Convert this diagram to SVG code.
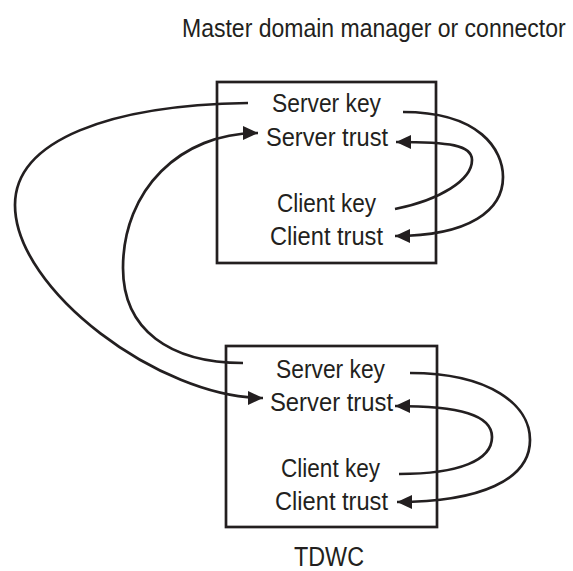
<svg xmlns="http://www.w3.org/2000/svg" width="573" height="571" viewBox="0 0 573 571">
  <style>
    .box { fill: #ffffff; stroke: #231f20; stroke-width: 2.7; }
    .lbl { font-family: "Liberation Sans", Arial, sans-serif; font-size: 26px; fill: #231f20; }
    .title { font-family: "Liberation Sans", Arial, sans-serif; font-size: 26px; fill: #231f20; }
    .conn { fill: none; stroke: #231f20; stroke-width: 2.7; }
  </style>
  <defs>
    <marker id="arrow" markerUnits="userSpaceOnUse" markerWidth="16" markerHeight="14" refX="15" refY="7" orient="auto">
      <path d="M0,0 L15,7 L0,14 Z" fill="#231f20"/>
    </marker>
  </defs>

  <rect width="573" height="571" fill="#ffffff"/>

  <!-- heading, narrowed horizontally to a condensed look -->
  <text class="title" transform="translate(182,37) scale(0.885,1)" x="0" y="0">Master domain manager or connector</text>

  <!-- Master domain manager key store -->
  <g id="master">
    <rect class="box" x="217" y="82" width="219" height="181"/>
    <text class="lbl" x="272" y="112" textLength="109" lengthAdjust="spacingAndGlyphs">Server key</text>
    <text class="lbl" x="266" y="146" textLength="122" lengthAdjust="spacingAndGlyphs">Server trust</text>
    <text class="lbl" x="277" y="212" textLength="99" lengthAdjust="spacingAndGlyphs">Client key</text>
    <text class="lbl" x="270" y="245" textLength="113" lengthAdjust="spacingAndGlyphs">Client trust</text>
  </g>

  <!-- TDWC key store -->
  <g id="tdwc">
    <rect class="box" x="226" y="346" width="211" height="181"/>
    <text class="lbl" x="276" y="378" textLength="109" lengthAdjust="spacingAndGlyphs">Server key</text>
    <text class="lbl" x="270" y="411" textLength="123" lengthAdjust="spacingAndGlyphs">Server trust</text>
    <text class="lbl" x="281" y="477" textLength="99" lengthAdjust="spacingAndGlyphs">Client key</text>
    <text class="lbl" x="275" y="510" textLength="113" lengthAdjust="spacingAndGlyphs">Client trust</text>
  </g>

  <text class="title" x="294" y="566" style="font-size:27px" textLength="70" lengthAdjust="spacingAndGlyphs">TDWC</text>

  <g id="connectors">
    <!-- master: server key to client trust -->
    <path class="conn" marker-end="url(#arrow)" d="M403,112 C480,112 503,150 503,177 C503,210 470,236 395,236"/>
    <!-- master: client key to server trust -->
    <path class="conn" marker-end="url(#arrow)" d="M395,209 C440,200 472,180 472,160 C472,145 450,142 396,142"/>
    <!-- tdwc: server key to client trust -->
    <path class="conn" marker-end="url(#arrow)" d="M410,373 C490,373 530,405 530,440 C530,480 480,502 397,502"/>
    <!-- tdwc: client key to server trust -->
    <path class="conn" marker-end="url(#arrow)" d="M399,474 C460,474 492,460 492,437 C492,415 460,406 395,406"/>
    <!-- master server key to tdwc server trust -->
    <path class="conn" marker-end="url(#arrow)" d="M248,103 C110,105 15,140 15,205 C15,290 160,398 263,398"/>
    <!-- tdwc server key to master server trust -->
    <path class="conn" marker-end="url(#arrow)" d="M243,363 C170,363 123,330 123,268 C123,190 180,133 258,133"/>
  </g>
</svg>
